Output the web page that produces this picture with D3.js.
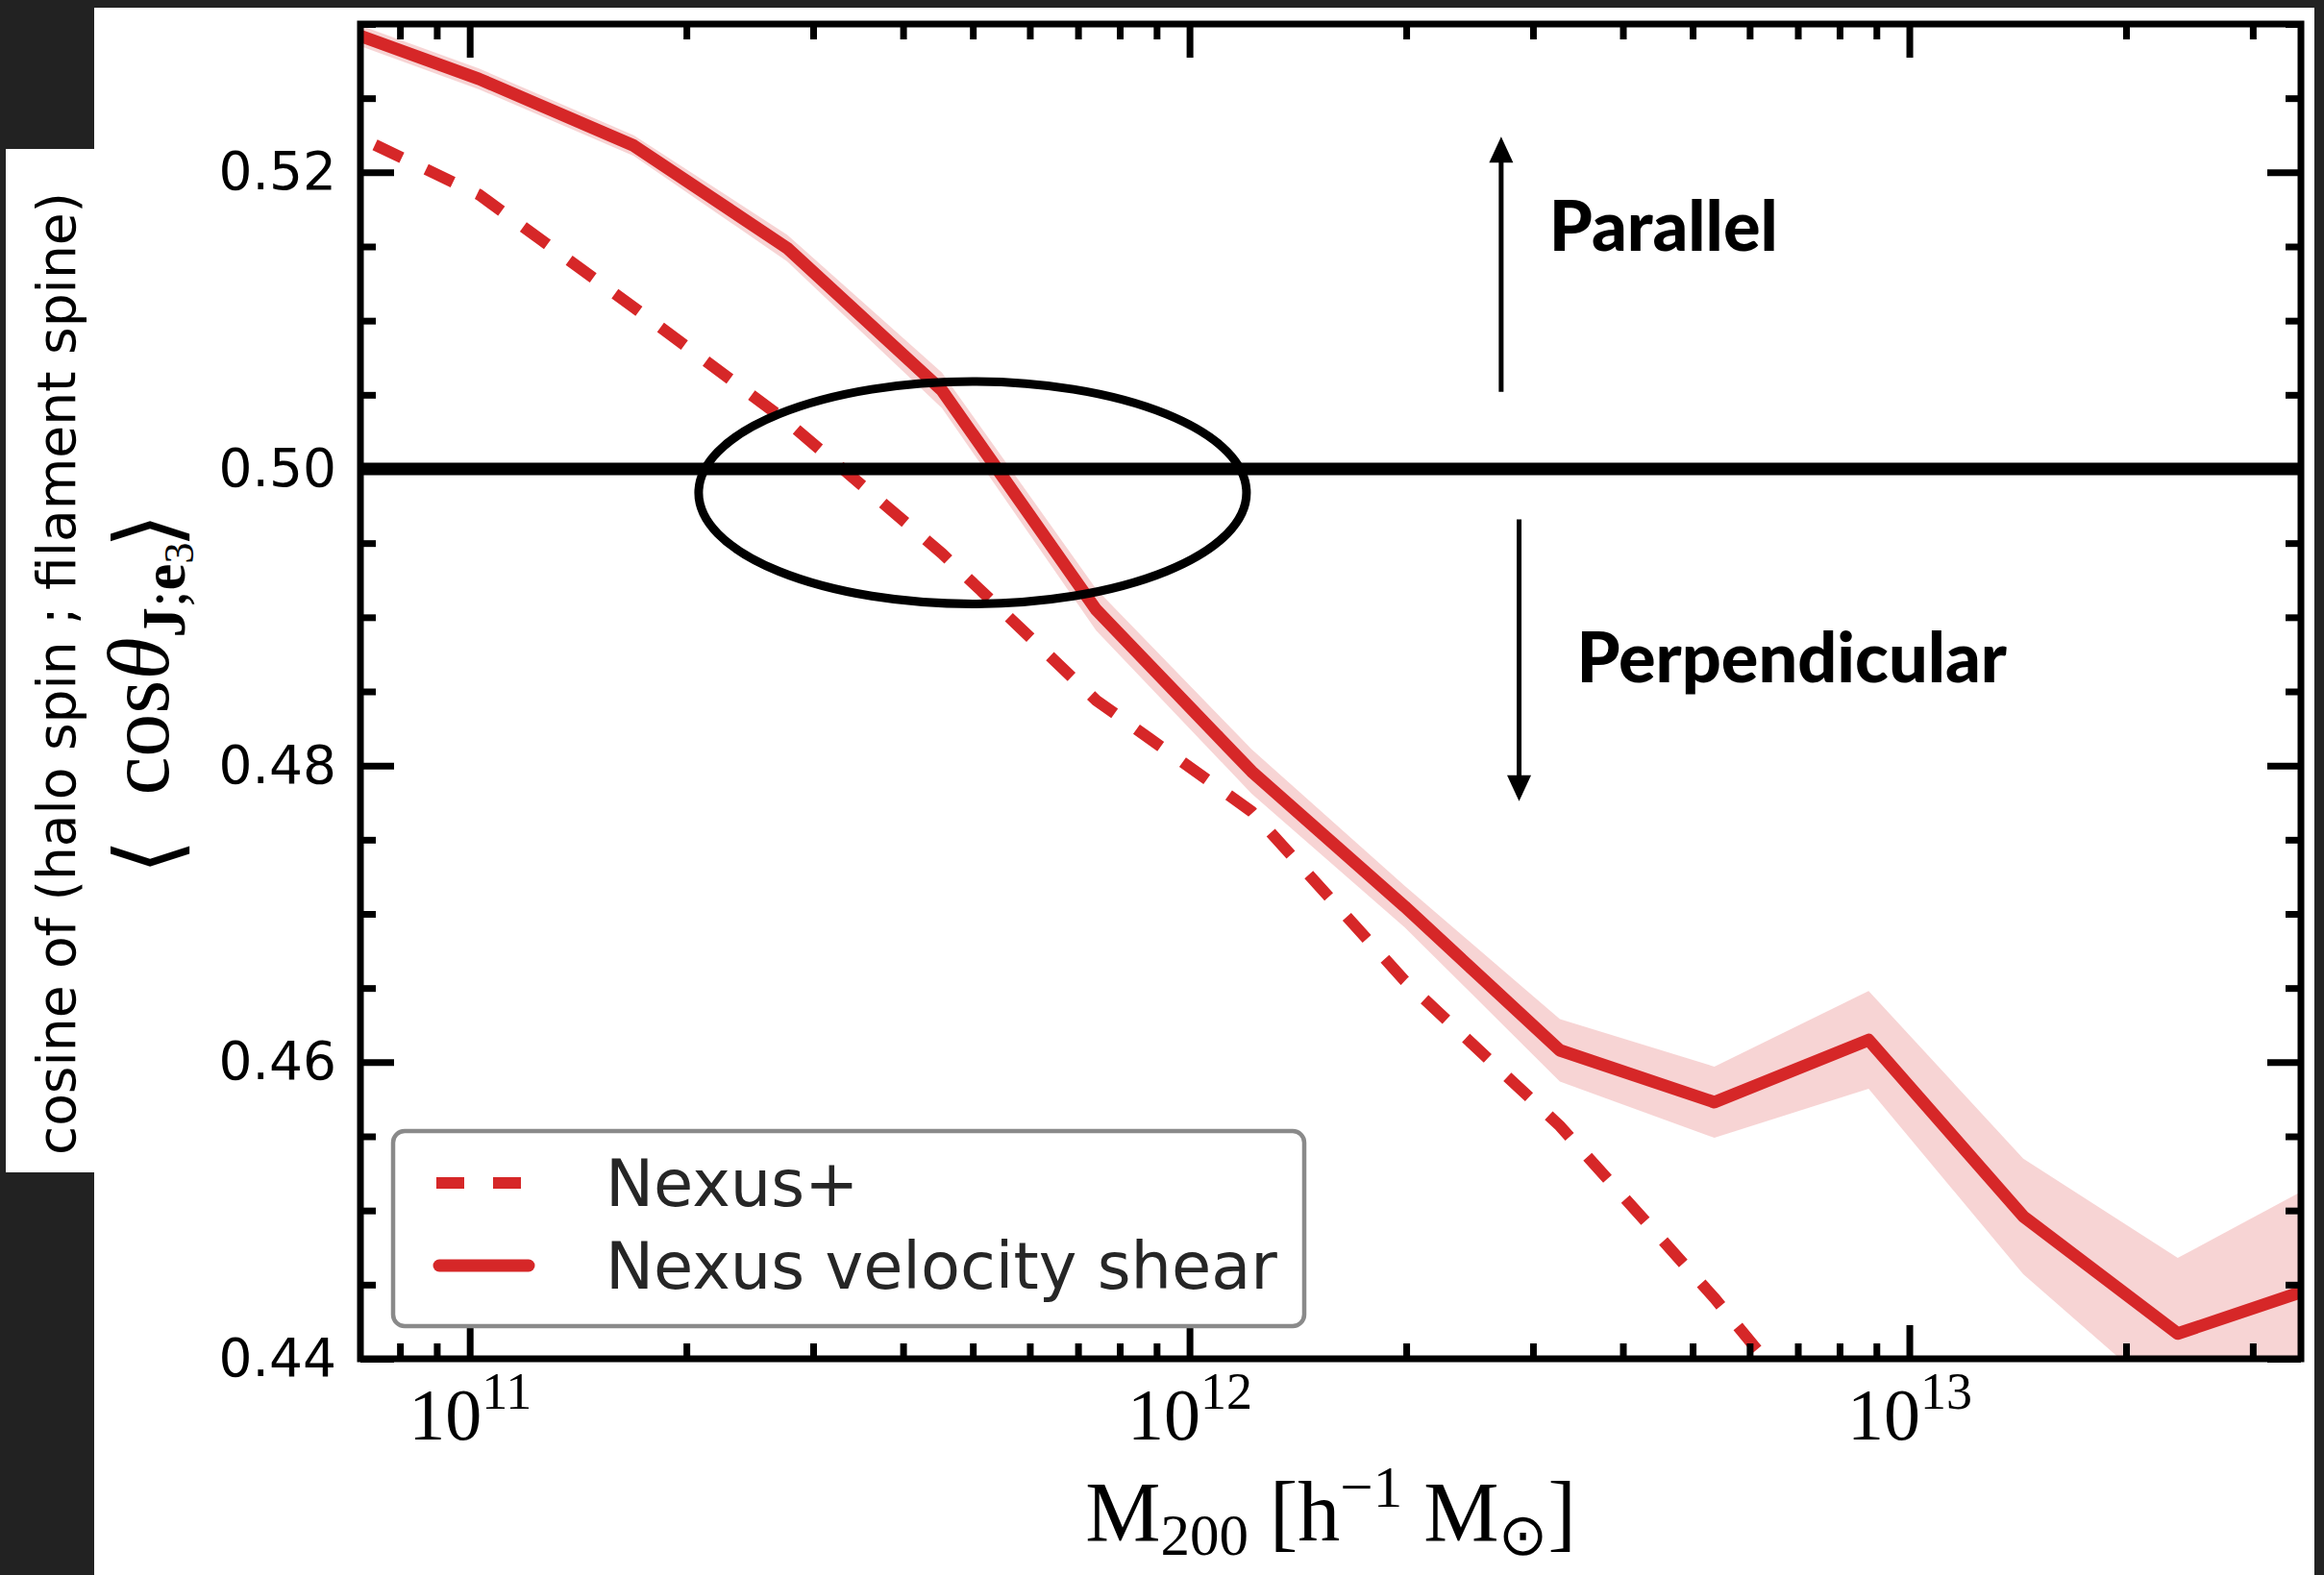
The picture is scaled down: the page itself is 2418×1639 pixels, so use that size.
<!DOCTYPE html>
<html>
<head>
<meta charset="utf-8">
<script src="https://cdn.jsdelivr.net/npm/d3@7"></script>
<style>
  body { margin: 0; background: #222222; }
  svg { display: block; }
</style>
</head>
<body>
<div id="plot"></div>
<script>
// halo mass bin centres [h^-1 Msun] and mean cos(theta)
var mass = [6.27e10, 1.03e11, 1.69e11, 2.76e11, 4.53e11, 7.42e11, 1.22e12, 1.99e12, 3.27e12, 5.36e12, 8.78e12, 1.44e13, 2.36e13, 3.87e13];
var shear = [0.5301, 0.5263, 0.5218, 0.5149, 0.5053, 0.4905, 0.4796, 0.4705, 0.4608, 0.4573, 0.4615, 0.4496, 0.4417, 0.4452];
var shearErr = [0.0007, 0.0007, 0.0007, 0.0009, 0.0012, 0.0014, 0.0015, 0.0014, 0.0021, 0.0024, 0.0033, 0.0039, 0.0051, 0.0072];
var nexusPlus = [0.5235, 0.5185, 0.5109, 0.5032, 0.4943, 0.4844, 0.4769, 0.4655, 0.4557, 0.4441, 0.4315];

var xTicks = [1e11, 1e12, 1e13];
var yTicks = [0.44, 0.46, 0.48, 0.50, 0.52];
var names = ["Nexus+", "Nexus velocity shear"];

// annotations, in data units
var ellipseMass = [2.08e11, 1.2e12];
var ellipseVal = [0.4909, 0.5059];
var arrowMass = [2.71e12, 2.87e12];
var arrowFrom = [0.5052, 0.4966];
var arrowTo = [0.5224, 0.4776];
var labelMass = [3.16e12, 3.45e12];
var labelVal = [0.5147, 0.4856];
var labelText = ["Parallel", "Perpendicular"];

var red = "#d62728";

// svg bounds
var W = 2418, H = 1639;
var margin = {top: 25, right: 24, bottom: 225, left: 375};
var width = W - margin.left - margin.right;
var height = H - margin.top - margin.bottom;

var svg = d3.select("#plot").append("svg")
    .attr("width", W)
    .attr("height", H);

// page background: dark frame, white figure, white label strip
svg.append("rect").attr("width", W).attr("height", H).attr("fill", "#222222");
svg.append("rect").attr("x", 98).attr("y", 8).attr("width", 2310).attr("height", H - 8).attr("fill", "#fff");
svg.append("rect").attr("x", 6).attr("y", 155).attr("width", 94).attr("height", 1065).attr("fill", "#fff");

var g = svg.append("g")
    .attr("transform", "translate(" + margin.left + "," + margin.top + ")");

g.append("clipPath").attr("id", "clip")
  .append("rect").attr("width", width).attr("height", height);

// scales
var x = d3.scaleLog()
    .domain([7.05e10, 3.5e13])
    .range([0, width]);

var y = d3.scaleLinear()
    .domain([0.44, 0.53])
    .range([height, 0]);

var plot = g.append("g").attr("clip-path", "url(#clip)");

// error band + lines
var band = d3.area()
    .x(function(d, i) { return x(mass[i]); })
    .y0(function(d, i) { return y(d - shearErr[i]); })
    .y1(function(d, i) { return y(d + shearErr[i]); });

plot.append("path")
    .datum(shear)
    .attr("d", band)
    .attr("fill", red)
    .attr("fill-opacity", 0.2);

var line = d3.line()
    .x(function(d, i) { return x(mass[i]); })
    .y(function(d) { return y(d); });

plot.append("path")
    .datum(nexusPlus)
    .attr("d", line)
    .attr("fill", "none")
    .attr("stroke", red)
    .attr("stroke-width", 12)
    .attr("stroke-dasharray", "31,28");

plot.append("path")
    .datum(shear)
    .attr("d", line)
    .attr("fill", "none")
    .attr("stroke", red)
    .attr("stroke-width", 13)
    .attr("stroke-linejoin", "round")
    .attr("stroke-linecap", "round");

// 0.5 reference line
plot.append("line")
    .attr("x1", 0).attr("x2", width)
    .attr("y1", y(0.5)).attr("y2", y(0.5))
    .attr("stroke", "#000")
    .attr("stroke-width", 13);

// ellipse round the crossing
var ex0 = x(ellipseMass[0]), ex1 = x(ellipseMass[1]);
var ey0 = y(ellipseVal[0]), ey1 = y(ellipseVal[1]);
plot.append("ellipse")
    .attr("cx", (ex0 + ex1) / 2).attr("cy", (ey0 + ey1) / 2)
    .attr("rx", (ex1 - ex0) / 2).attr("ry", (ey0 - ey1) / 2)
    .attr("fill", "none")
    .attr("stroke", "#000")
    .attr("stroke-width", 9);

// arrows
arrowMass.forEach(function(m, i) {
    var ax = x(m), a0 = y(arrowFrom[i]), a1 = y(arrowTo[i]);
    var dir = a1 < a0 ? 1 : -1;
    g.append("line")
        .attr("x1", ax).attr("x2", ax)
        .attr("y1", a0).attr("y2", a1 + dir * 20)
        .attr("stroke", "#000").attr("stroke-width", 5);
    g.append("path")
        .attr("d", "M" + ax + "," + a1 + "L" + (ax - 12.5) + "," + (a1 + dir * 27) + "L" + (ax + 12.5) + "," + (a1 + dir * 27) + "Z")
        .attr("fill", "#000");
});

g.selectAll(".note")
    .data(labelText)
    .enter().append("text")
    .attr("class", "note")
    .attr("x", function(d, i) { return x(labelMass[i]); })
    .attr("y", function(d, i) { return y(labelVal[i]); })
    .attr("font-family", "Lato, 'Open Sans', sans-serif")
    .attr("font-weight", 900)
    .attr("font-size", 72)
    .attr("fill", "#000")
    .text(function(d) { return d; });

// axes: inward ticks on all four sides
var minorX = x.ticks().filter(function(d) { return xTicks.indexOf(d) < 0; });
var minorY = y.ticks(18).filter(function(d) { return Math.round(d * 1000) % 20 !== 0; });

function styleAxis(sel) {
    sel.select(".domain").remove();
    sel.selectAll(".tick line").attr("stroke", "#000").attr("stroke-width", 7);
}

g.append("g").attr("transform", "translate(0," + height + ")")
    .call(d3.axisBottom(x).tickValues(minorX).tickSize(-16).tickFormat(""))
    .call(styleAxis);
g.append("g")
    .call(d3.axisTop(x).tickValues(minorX).tickSize(-16).tickFormat(""))
    .call(styleAxis);
g.append("g")
    .call(d3.axisTop(x).tickValues(xTicks).tickSize(-35).tickFormat(""))
    .call(styleAxis);

var gx = g.append("g")
    .attr("transform", "translate(0," + height + ")")
    .call(d3.axisBottom(x).tickValues(xTicks).tickSize(-35).tickPadding(30).tickFormat(""))
    .call(styleAxis);

gx.selectAll(".tick text")
    .attr("font-family", "'Liberation Serif', serif")
    .attr("font-size", 76)
    .attr("fill", "#000")
    .each(function(d) {
        var t = d3.select(this);
        t.append("tspan").text("10");
        t.append("tspan").attr("dy", -32).attr("font-size", 54).text(Math.round(Math.log10(d)));
    });

g.append("g")
    .call(d3.axisLeft(y).tickValues(minorY).tickSize(-16).tickFormat(""))
    .call(styleAxis);
g.append("g").attr("transform", "translate(" + width + ",0)")
    .call(d3.axisRight(y).tickValues(minorY).tickSize(-16).tickFormat(""))
    .call(styleAxis);
g.append("g").attr("transform", "translate(" + width + ",0)")
    .call(d3.axisRight(y).tickValues(yTicks).tickSize(-35).tickFormat(""))
    .call(styleAxis);

g.append("g")
    .call(d3.axisLeft(y).tickValues(yTicks).tickSize(-35).tickPadding(25).tickFormat(d3.format(".2f")))
    .call(styleAxis)
    .selectAll(".tick text")
    .attr("font-family", "'DejaVu Sans', sans-serif")
    .attr("font-size", 55)
    .attr("fill", "#000");

// frame
g.append("rect")
    .attr("width", width).attr("height", height)
    .attr("fill", "none")
    .attr("stroke", "#000")
    .attr("stroke-width", 7);

// legend
var leg = g.append("g").attr("transform", "translate(34,1152)");
leg.append("rect")
    .attr("width", 948).attr("height", 203)
    .attr("rx", 12)
    .attr("fill", "#fff")
    .attr("stroke", "#8a8a8a")
    .attr("stroke-width", 4.5);
leg.append("line")
    .attr("x1", 45).attr("x2", 133).attr("y1", 54).attr("y2", 54)
    .attr("stroke", red).attr("stroke-width", 12).attr("stroke-dasharray", "29,30");
leg.append("line")
    .attr("x1", 48).attr("x2", 141).attr("y1", 140).attr("y2", 140)
    .attr("stroke", red).attr("stroke-width", 13).attr("stroke-linecap", "round");
leg.selectAll(".lab")
    .data(names)
    .enter().append("text")
    .attr("x", 221)
    .attr("y", function(d, i) { return 78 + i * 86; })
    .attr("font-family", "'DejaVu Sans', sans-serif")
    .attr("font-size", 67)
    .attr("fill", "#262626")
    .text(function(d) { return d; });

// x label
var xl = svg.append("text")
    .attr("x", margin.left + width / 2)
    .attr("y", 1603)
    .attr("text-anchor", "middle")
    .attr("font-family", "'Liberation Serif', serif")
    .attr("font-size", 88)
    .attr("fill", "#000");
xl.append("tspan").text("M");
xl.append("tspan").attr("dy", 15).attr("font-size", 61).text("200");
xl.append("tspan").attr("dy", -15).text(" [h");
xl.append("tspan").attr("dy", -35).attr("font-size", 61).text("\u22121");
xl.append("tspan").attr("dy", 35).text(" M");
xl.append("tspan").attr("dy", 15).attr("font-size", 61).text("\u2299");
xl.append("tspan").attr("dy", -15).text("]");

// y labels
svg.append("text")
    .attr("transform", "translate(78," + 701 + ") rotate(-90)")
    .attr("text-anchor", "middle")
    .attr("font-family", "'DejaVu Sans', sans-serif")
    .attr("font-size", 55)
    .attr("fill", "#000")
    .text("cosine of (halo spin ; filament spine)");

var ylX = 175, ylY = 696;
var yl = svg.append("text")
    .attr("transform", "translate(" + ylX + "," + ylY + ") rotate(-90)")
    .attr("text-anchor", "middle")
    .attr("font-family", "'Liberation Serif', serif")
    .attr("font-size", 90)
    .attr("fill", "#000");
yl.append("tspan").text("cos");
yl.append("tspan").attr("font-style", "italic").text("\u03B8");
yl.append("tspan").attr("dy", 17).attr("font-size", 63).attr("font-weight", "bold").text("J");
yl.append("tspan").attr("font-size", 63).text(";");
yl.append("tspan").attr("font-size", 63).attr("font-weight", "bold").text("e");
yl.append("tspan").attr("dy", 9).attr("font-size", 44).text("3");

// tall thin angle brackets either side of the expression,
// sized from the glyph's ink box so they span ~83 x 22 px
var half = yl.node().getComputedTextLength() / 2;
var ctx = document.createElement("canvas").getContext("2d");
ctx.font = "100px 'DejaVu Sans'";
[["\u27E8", ylY + half + 64], ["\u27E9", ylY - half - 12]].forEach(function(b) {
    var m = ctx.measureText(b[0]);
    var inkW = m.actualBoundingBoxLeft + m.actualBoundingBoxRight;
    var inkH = m.actualBoundingBoxAscent + m.actualBoundingBoxDescent;
    var cx = (m.actualBoundingBoxRight - m.actualBoundingBoxLeft) / 2;
    var cy = (m.actualBoundingBoxDescent - m.actualBoundingBoxAscent) / 2;
    svg.append("text")
        .attr("transform", "translate(" + (ylX - 19) + "," + b[1] + ") rotate(-90) scale(" + (22 / inkW) + "," + (83 / inkH) + ") translate(" + (-cx) + "," + (-cy) + ")")
        .attr("font-family", "'DejaVu Sans', sans-serif")
        .attr("font-size", 100)
        .attr("fill", "#000")
        .text(b[0]);
});
</script>
</body>
</html>
